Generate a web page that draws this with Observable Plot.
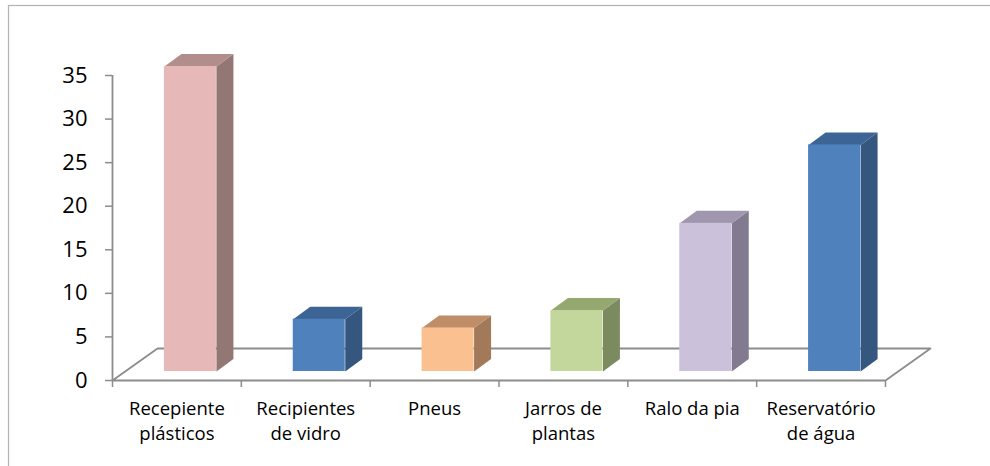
<!DOCTYPE html>
<html>
<head>
<meta charset="utf-8">
<script src="https://cdn.jsdelivr.net/npm/d3@7"></script>
<script src="https://cdn.jsdelivr.net/npm/@observablehq/plot@0.6"></script>
<style>
  html, body { margin: 0; padding: 0; background: #fff; overflow: hidden; }
  #chart svg { display: block; }
</style>
</head>
<body>
<div id="chart"></div>
<script>
// Categories and counts
const categories = [
  "Recepiente\nplásticos",
  "Recipientes\nde vidro",
  "Pneus",
  "Jarros de\nplantas",
  "Ralo da pia",
  "Reservatório\nde água"
];
const values = [35, 6, 5, 7, 17, 26];
const yTicks = [0, 5, 10, 15, 20, 25, 30, 35];

// Face colours of each column: front, top, right side
const frontColors = ["#E6B9B8", "#4F81BD", "#FAC090", "#C3D69B", "#CCC1DA", "#4F81BD"];
const topColors   = ["#B18E8C", "#3C6494", "#BF8D67", "#95A86F", "#A096AD", "#3C6494"];
const sideColors  = ["#937775", "#34567F", "#A27A59", "#7C8A60", "#827A8E", "#34567F"];

const W = 990, H = 466;
const mL = 112, mR = 105, mT = 75, mB = 86;
const nCat = categories.length, yMax = 35;

// pixels per data unit along each axis
const kx = (W - mL - mR) / nCat;
const ky = (H - mT - mB) / yMax;

// oblique projection: floor depth, column placement and column depth (px)
const floorDX = 45, floorDY = 32;
const colShiftX = 13.5, colShiftY = -9;
const colHalf = 26;
const depthX = 17, depthY = 12.5;

const floor = [
  {x: 0, y: 0},
  {x: nCat, y: 0},
  {x: nCat + floorDX / kx, y: floorDY / ky},
  {x: floorDX / kx, y: floorDY / ky},
  {x: 0, y: 0}
];

const cols = values.map((v, i) => {
  const c = i + 0.5;
  const x1 = c - colHalf / kx, x2 = c + colHalf / kx;
  const ddx = depthX / kx, ddy = depthY / ky;
  return {
    i, v, x1, x2,
    top: [
      {x: x1, y: v}, {x: x2, y: v}, {x: x2 + ddx, y: v + ddy}, {x: x1 + ddx, y: v + ddy}
    ],
    side: [
      {x: x2, y: 0}, {x: x2, y: v}, {x: x2 + ddx, y: v + ddy}, {x: x2 + ddx, y: ddy}
    ]
  };
});

const gray = "#8c8c8c";

const marks = [
  // outer chart border
  Plot.frame({stroke: "#b4b4b4", strokeWidth: 1.25, insetLeft: -(mL - 8), insetTop: -(mT - 5), insetRight: -130, insetBottom: -110}),
  // floor
  Plot.line(floor, {x: "x", y: "y", stroke: gray, strokeWidth: 1.8}),
  // columns
  ...cols.flatMap(b => [
    Plot.line(b.side, {x: "x", y: "y", fill: sideColors[b.i], stroke: "none", dx: colShiftX, dy: colShiftY}),
    Plot.line(b.top, {x: "x", y: "y", fill: topColors[b.i], stroke: "none", dx: colShiftX, dy: colShiftY}),
  ]),
  Plot.rect(cols, {
    x1: "x1", x2: "x2", y1: 0, y2: "v",
    fill: (d) => frontColors[d.i],
    dx: colShiftX, dy: colShiftY
  }),
  // value axis
  Plot.ruleX([0], {y1: 0, y2: yMax, stroke: gray, strokeWidth: 1.8}),
  Plot.axisY({
    ticks: yTicks, tickSize: 7, tickPadding: 18, stroke: gray, strokeWidth: 1.5,
    fill: "black", fontSize: 22, label: null
  }),
  // category dividers
  Plot.axisX({
    ticks: d3.range(nCat + 1), tickSize: 7, stroke: gray, strokeWidth: 1.5,
    tickFormat: () => "", label: null
  }),
  // category labels
  Plot.text(categories, {
    x: (d, i) => i + 0.5, y: 0, text: (d) => d,
    lineAnchor: "top", dy: 17, fontSize: 18.5, lineHeight: 1.35, fill: "black"
  })
];

const chart = Plot.plot({
  width: W,
  height: H,
  marginLeft: mL,
  marginRight: mR,
  marginTop: mT,
  marginBottom: mB,
  x: {domain: [0, nCat], axis: null},
  y: {domain: [0, yMax], axis: null},
  color: {type: "identity"},
  style: {fontFamily: "'Open Sans', sans-serif", color: "black", background: "white", overflow: "hidden"},
  marks
});

document.getElementById("chart").appendChild(chart);
</script>
</body>
</html>
